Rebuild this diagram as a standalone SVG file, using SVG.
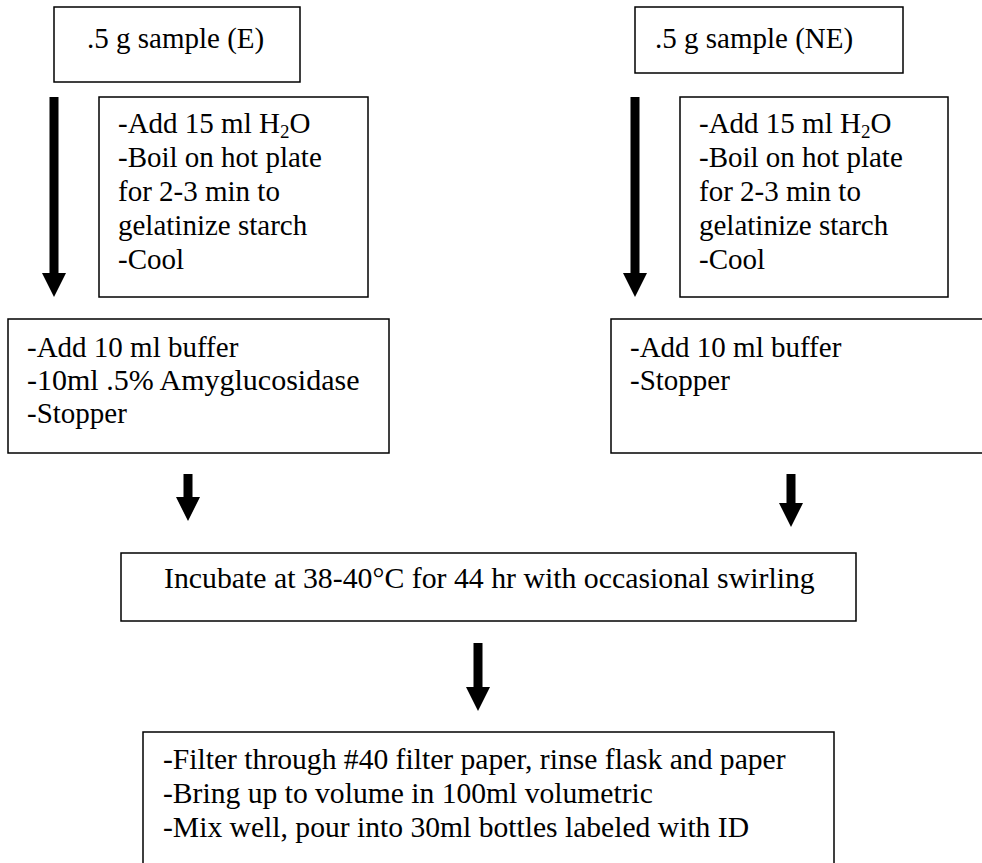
<svg xmlns="http://www.w3.org/2000/svg" width="982" height="863" viewBox="0 0 982 863" font-family="Liberation Serif, serif" font-size="29">
<defs>
<style>
.box{fill:#fff;stroke:#000;stroke-width:1.5}
.sub{font-size:19px}
.arr{fill:#000;stroke:none}
</style>
</defs>
<rect width="982" height="863" fill="#fff"/>
<g id="sample-e">
<rect class="box" x="54" y="7" width="246" height="75"/>
<text x="87" y="48">.5 g sample (E)</text>
</g>
<g id="sample-ne">
<rect class="box" x="635" y="7" width="268" height="66"/>
<text x="655" y="48">.5 g sample (NE)</text>
</g>
<g id="boil-e">
<rect class="box" x="99" y="97" width="269" height="200"/>
<text x="118" y="133">-Add 15 ml H<tspan class="sub" dy="5">2</tspan><tspan dy="-5">O</tspan></text>
<text x="118" y="167">-Boil on hot plate</text>
<text x="118" y="201">for 2-3 min to</text>
<text x="118" y="235">gelatinize starch</text>
<text x="118" y="269">-Cool</text>
</g>
<g id="boil-ne">
<rect class="box" x="680" y="97" width="268" height="200"/>
<text x="699" y="133">-Add 15 ml H<tspan class="sub" dy="5">2</tspan><tspan dy="-5">O</tspan></text>
<text x="699" y="167">-Boil on hot plate</text>
<text x="699" y="201">for 2-3 min to</text>
<text x="699" y="235">gelatinize starch</text>
<text x="699" y="269">-Cool</text>
</g>
<g id="buffer-e">
<rect class="box" x="8" y="319" width="381" height="134"/>
<text x="27" y="357">-Add 10 ml buffer</text>
<text x="27" y="390" font-size="30">-10ml .5% Amyglucosidase</text>
<text x="27" y="423">-Stopper</text>
</g>
<g id="buffer-ne">
<rect class="box" x="611" y="319" width="400" height="134"/>
<text x="630" y="357">-Add 10 ml buffer</text>
<text x="630" y="390">-Stopper</text>
</g>
<g id="incubate">
<rect class="box" x="121" y="553" width="735" height="68"/>
<text x="164" y="588" font-size="29.8">Incubate at 38-40°C for 44 hr with occasional swirling</text>
</g>
<g id="filter" font-size="29.6">
<rect class="box" x="143" y="732" width="691" height="150"/>
<text x="163" y="769">-Filter through #40 filter paper, rinse flask and paper</text>
<text x="163" y="803">-Bring up to volume in 100ml volumetric</text>
<text x="163" y="837">-Mix well, pour into 30ml bottles labeled with ID</text>
</g>
<g id="connectors">
<path class="arr" d="M49.5,97 H58.5 V273 H66 L54,297 L42,273 H49.5 Z"/>
<path class="arr" d="M630.5,97 H639.5 V273 H647 L635,297 L623,273 H630.5 Z"/>
<path class="arr" d="M183.5,474 H192.5 V497 H200 L188,521 L176,497 H183.5 Z"/>
<path class="arr" d="M786.5,474 H795.5 V503 H803 L791,527 L779,503 H786.5 Z"/>
<path class="arr" d="M473.5,643 H482.5 V687 H490 L478,711 L466,687 H473.5 Z"/>
</g>
</svg>
